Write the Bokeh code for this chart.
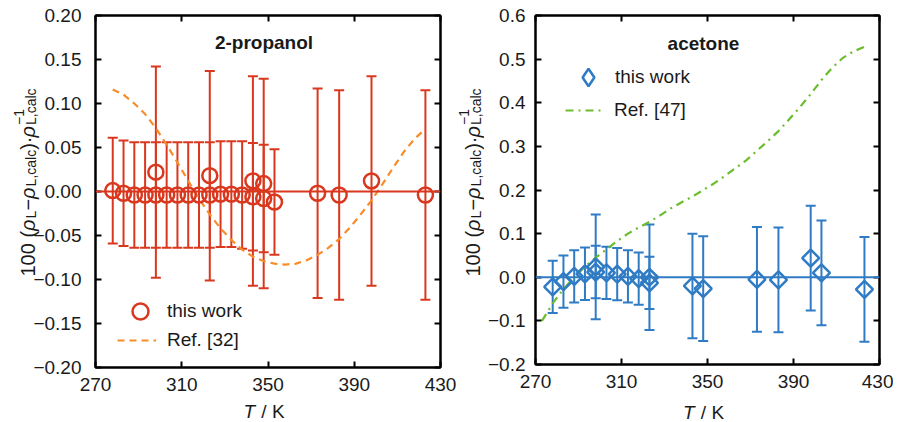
import math
from bokeh.plotting import figure
from bokeh.models import (ColumnDataSource, Whisker, TeeHead, Span, Label, LinearAxis,
                          FixedTicker, CustomJSTickFormatter, Legend, LegendItem, Range1d)
from bokeh.core.properties import value
from bokeh.layouts import row
from bokeh.embed import file_html
from bokeh.resources import INLINE

FONT = "Liberation Sans"
TXT = "#1a1a1a"

# ---------------- data: 2-propanol ----------------
prop_T = [278, 283, 288, 293, 298, 298, 303, 308, 313, 318, 323, 323, 328, 333, 338,
          343, 343, 348, 348, 353, 373, 383, 398, 423]
prop_dev = [0.001, -0.002, -0.004, -0.004, -0.004, 0.022, -0.004, -0.004, -0.004, -0.004,
            -0.004, 0.018, -0.003, -0.003, -0.004, 0.012, -0.006, 0.009, -0.008, -0.012,
            -0.002, -0.004, 0.012, -0.004]
prop_unc = [0.060, 0.060, 0.060, 0.060, 0.060, 0.120, 0.060, 0.060, 0.060, 0.060,
            0.060, 0.119, 0.060, 0.060, 0.061, 0.119, 0.061, 0.119, 0.061, 0.060,
            0.119, 0.119, 0.119, 0.119]
ref32_T = [278, 283, 288, 293, 298, 303, 308, 313, 318, 323, 328, 333, 338, 343, 348,
           353, 358, 363, 368, 373, 378, 383, 388, 393, 398, 403, 408, 413, 418, 423]
ref32_dev = [0.116, 0.110, 0.100, 0.088, 0.072, 0.053, 0.033, 0.012, -0.008, -0.026,
             -0.042, -0.055, -0.066, -0.074, -0.079, -0.082, -0.083, -0.082, -0.078, -0.072,
             -0.064, -0.054, -0.041, -0.026, -0.010, 0.008, 0.027, 0.045, 0.060, 0.071]

# ---------------- data: acetone ----------------
ace_T = [278, 283, 288, 293, 298, 298, 303, 308, 313, 318, 323, 323, 343, 348, 373,
         383, 398, 403, 423]
ace_dev = [-0.022, -0.010, 0.002, 0.008, 0.024, 0.012, 0.010, 0.007, 0.002, -0.003,
           0.000, -0.013, -0.020, -0.026, -0.005, -0.006, 0.044, 0.010, -0.028]
ace_unc = [0.060, 0.060, 0.060, 0.060, 0.120, 0.060, 0.060, 0.060, 0.060, 0.060,
           0.121, 0.060, 0.120, 0.120, 0.120, 0.120, 0.120, 0.120, 0.120]
ref47_T = [273, 278, 283, 288, 293, 298, 303, 308, 313, 318, 323, 328, 333, 338, 343,
           348, 353, 358, 363, 368, 373, 378, 383, 388, 393, 398, 403, 408, 413, 418, 423]
ref47_dev = [-0.100, -0.060, -0.027, 0.000, 0.024, 0.045, 0.064, 0.083, 0.100, 0.114,
             0.127, 0.142, 0.158, 0.172, 0.185, 0.200, 0.215, 0.232, 0.250, 0.268,
             0.290, 0.312, 0.335, 0.362, 0.390, 0.420, 0.452, 0.480, 0.503, 0.518, 0.528]

x_ticks = [270, 310, 350, 390, 430]
prop_yticks = [-0.20, -0.15, -0.10, -0.05, 0.0, 0.05, 0.10, 0.15, 0.20]
ace_yticks = [-0.2, -0.1, 0.0, 0.1, 0.2, 0.3, 0.4, 0.5, 0.6]

RED = "#d9381e"
ORANGE = "#f78c2a"
BLUE = "#2f7bc4"
GREEN = "#6abd2c"

W = {'1': .556, '0': .556, ' ': .278, '(': .333, ')': .333, 'L': .556, ',': .278,
     'c': .5, 'a': .556, 'l': .222, '−': .584, '·': .278, 'ρ': .578, 'T': .611,
     '/': .278, 'K': .667}


def tw(t, size):
    return sum(W.get(c, 0.55) for c in t) * size


def make_panel(frame_left, frame_top, frame_w, frame_h, y0, y1, yticks, ydig,
               fig_left, fig_w, fig_h, title, color, ystandoff):
    bl = frame_left - fig_left
    bt = frame_top
    br = fig_w - bl - frame_w
    bb = fig_h - bt - frame_h
    p = figure(frame_width=frame_w, frame_height=frame_h, min_border_left=bl,
               min_border_top=bt, min_border_right=br, min_border_bottom=bb,
               x_range=Range1d(270, 430), y_range=Range1d(y0, y1),
               output_backend="svg", toolbar_location=None)
    p.xgrid.visible = False
    p.ygrid.visible = False
    p.outline_line_color = "black"
    p.outline_line_width = 2
    p.background_fill_color = "white"
    p.border_fill_color = "white"

    fmt = CustomJSTickFormatter(code="""
        const s = Math.abs(tick).toFixed(%d);
        return (tick < -1e-9 ? "\\u2212" : "") + s;""" % ydig)
    blank = CustomJSTickFormatter(code="return '';")

    def style(ax, labels):
        ax.axis_line_color = "black"
        ax.axis_line_width = 2
        ax.major_tick_line_color = "black"
        ax.major_tick_line_width = 2
        ax.major_tick_in = 6
        ax.major_tick_out = 0
        ax.minor_tick_line_color = None
        ax.major_label_text_font = FONT
        ax.major_label_text_color = TXT
        if labels:
            ax.major_label_text_font_size = "19px"
        else:
            ax.formatter = blank
            ax.major_label_text_font_size = "1px"
            ax.major_label_standoff = 0

    xa = p.xaxis[0]
    xa.ticker = FixedTicker(ticks=x_ticks)
    style(xa, True)
    xa.major_label_standoff = 10
    ya = p.yaxis[0]
    ya.ticker = FixedTicker(ticks=yticks)
    ya.formatter = fmt
    style(ya, True)
    ya.major_label_standoff = ystandoff

    top = LinearAxis(ticker=FixedTicker(ticks=x_ticks))
    style(top, False)
    p.add_layout(top, "above")
    right = LinearAxis(ticker=FixedTicker(ticks=yticks))
    style(right, False)
    p.add_layout(right, "right")

    def X(px):
        return 270 + (px - frame_left) * 160.0 / frame_w

    def Y(py):
        return y1 - (py - frame_top) * (y1 - y0) / frame_h

    p.add_layout(Span(location=0, dimension="width", line_color=color, line_width=2))

    cx = frame_left + frame_w / 2.0 - 4
    p.add_layout(Label(x=X(cx), y=Y(42), text=title,
                       text_font=FONT, text_font_style="bold", text_font_size="19px",
                       text_align="center", text_baseline="middle", text_color=TXT))
    return p, X, Y, cx


def label_rows(rows, X, Y, cx, ybase_px):
    """x label 'T / K' (centered at cx) and, if ybase_px given, the vertical y label."""
    if cx is not None:
        wT = tw("T", 19) + 1
        total = wT + tw(" / K", 19)
        sx = cx - total / 2
        rows.append((X(sx), Y(411), "T", "19px", "italic", 0.0))
        rows.append((X(sx + wT + tw(" ", 19)), Y(411), "/ K", "19px", "normal", 0.0))
    if ybase_px is not None:
        f, fs = 20, 14
        center_py = 182
        pieces = [("100 (", "normal", f, 0), ("ρ", "italic", f, 0), ("L", "normal", fs, 3),
                  ("−", "normal", f, 0), ("ρ", "italic", f, 0), ("L,calc", "normal", fs, 3),
                  (")·", "normal", f, 0), ("ρ", "italic", f, 0), ("L,calc", "normal", fs, 3)]
        widths = [tw(t, s) + (1.0 if st == "italic" else 0.0) for t, st, s, _ in pieces]
        py = center_py + sum(widths) / 2.0
        last = py
        for (t, st, s, sh), w in zip(pieces, widths):
            rows.append((X(ybase_px + sh), Y(py), t, f"{s}px", st, math.pi / 2))
            last = py
            py -= w
        rows.append((X(ybase_px - 9), Y(last), "−1", f"{fs}px", "normal", math.pi / 2))


def draw_labels(p, rows):
    x, y, t, fsz, st, ang = zip(*rows)
    src = ColumnDataSource(dict(x=list(x), y=list(y), t=list(t), fs=list(fsz),
                                st=list(st), ang=list(ang)))
    p.text(x="x", y="y", text="t", source=src, angle="ang", text_font=value(FONT),
           text_font_size="fs", text_font_style="st", text_align="left",
           text_baseline="alphabetic", text_color=TXT, level="overlay")


def add_data(p, T, dev, unc, color, marker, size, angle, leg_marker, leg_size, refT, refdev,
             refcolor, refdash, reflabel, locA, standA, locB, standB):
    src = ColumnDataSource(dict(T=T, dev=dev,
                                up=[d + u for d, u in zip(dev, unc)],
                                lo=[d - u for d, u in zip(dev, unc)]))
    p.add_layout(Whisker(source=src, base="T", upper="up", lower="lo", dimension="height",
                         line_color=color, line_width=2,
                         upper_head=TeeHead(size=10, line_color=color, line_width=2),
                         lower_head=TeeHead(size=10, line_color=color, line_width=2)))
    ref = p.line(refT, refdev, line_color=refcolor, line_width=2.2, line_dash=refdash)
    sc = p.scatter("T", "dev", source=src, marker=marker, size=size, angle=angle,
                   fill_color=None, line_color=color, line_width=2.5)
    if leg_marker != marker:
        proxy = p.scatter("T", "dev", source=src, marker=leg_marker, size=size,
                          fill_color=None, line_color=color, line_width=2.5, visible=False)
    else:
        proxy = sc
    common = dict(background_fill_alpha=0, border_line_color=None, padding=0, margin=0,
                  spacing=0, label_height=20, label_text_font=FONT,
                  label_text_font_size="19px", label_text_color=TXT,
                  inactive_fill_alpha=0)
    legA = Legend(items=[LegendItem(label="this work", renderers=[proxy])], location=locA,
                  glyph_width=leg_size, glyph_height=leg_size, label_standoff=standA,
                  **common)
    legB = Legend(items=[LegendItem(label=reflabel, renderers=[ref])], location=locB,
                  glyph_width=39, glyph_height=20, label_standoff=standB, **common)
    p.add_layout(legA, "center")
    p.add_layout(legB, "center")


P1_W = 484
p1, X1, Y1, cx1 = make_panel(95, 15, 345, 352, -0.2, 0.2, prop_yticks, 2, 0, P1_W, 422,
                             "2-propanol", RED, 14)
add_data(p1, prop_T, prop_dev, prop_unc, RED, "circle", 15, 0, "circle", 40, ref32_T,
         ref32_dev, ORANGE, "7 5", "Ref. [32]", (25, 36), 7, (22, 16), 11)

p2, X2, Y2, cx2 = make_panel(532, 14, 344, 349, -0.2, 0.6, ace_yticks, 1, P1_W, 890 - P1_W,
                             422, "acetone", BLUE, 10)
add_data(p2, ace_T, ace_dev, ace_unc, BLUE, "square", 12, math.pi / 4, "diamond", 44,
         ref47_T, ref47_dev, GREEN, "8 5 2 5", "Ref. [47]", (31, 265), 5, (30, 243), 10)

rows1 = []
label_rows(rows1, X1, Y1, cx1, 27)          # left panel labels
label_rows(rows1, X1, Y1, None, 472)        # right panel y label (sits left of its axis)
draw_labels(p1, rows1)
rows2 = []
label_rows(rows2, X2, Y2, cx2, None)
draw_labels(p2, rows2)

layout = row(p1, p2)
open("out.html", "w").write(file_html(layout, INLINE))
